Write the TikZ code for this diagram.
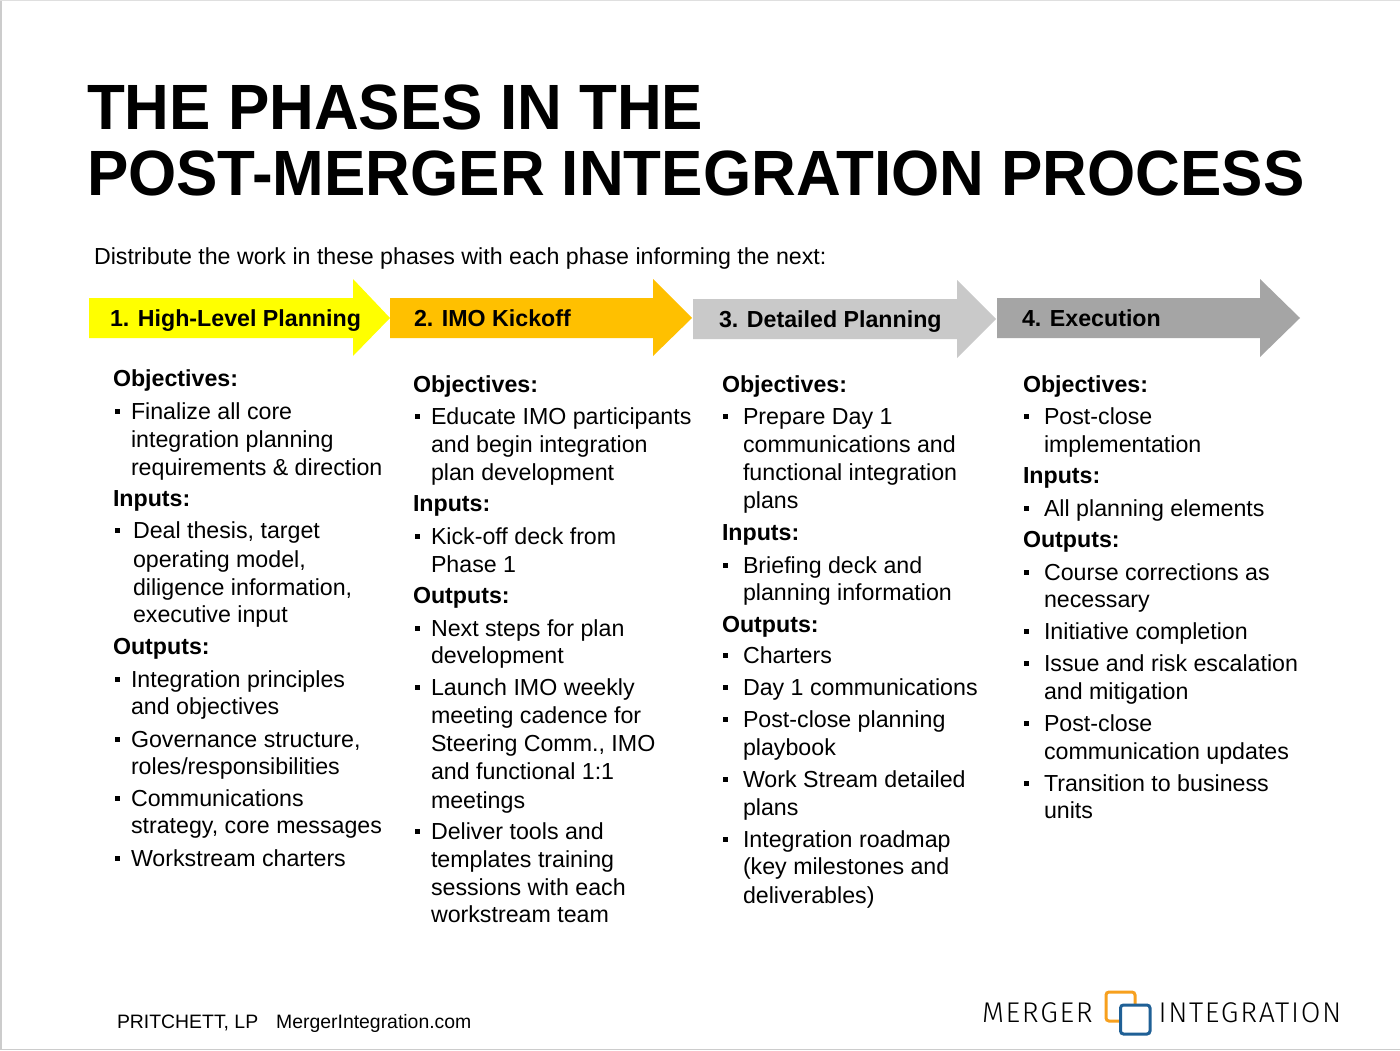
\documentclass[tikz,border=0pt]{standalone}
\usepackage{fontspec}
\usepackage{graphicx}
\setmainfont{Liberation Sans}
\newfontfamily\logofont[LetterSpace=6]{Fira Sans Light}
\newcount\tc
\newcommand{\bodyf}{\fontsize{23.2}{28}\selectfont}
\newcommand{\tl}[3]{\global\advance\tc by 1 \node[txt] (t\the\tc) at (#1,#2) {\bodyf #3};}
\newcommand{\hd}[3]{\global\advance\tc by 1 \node[txt] (t\the\tc) at (#1,#2-0.6) {\bodyf\bfseries #3};}
\newcommand{\bl}[4]{\fill (#1-3,#3-10) rectangle (#1+2,#3-5); \tl{#2}{#3}{#4}}
\definecolor{phaseyellow}{RGB}{255,255,0}
\tikzset{txt/.style={anchor=base west,inner sep=0pt,outer sep=0pt,text=black}}
\begin{document}
\begin{tikzpicture}[x=1pt,y=-1pt]
\useasboundingbox (0,0) rectangle (1400,1051);
\fill[white] (0,0) rectangle (1400,1051);
\draw[gray!40,line width=1.5pt] (1,0) -- (1,1049.5) -- (1400,1049.5);
\draw[gray!25,line width=1pt] (0,0.5) -- (1400,0.5);
% title
\node[txt] (title1) at (87,130) {\scalebox{0.968}[1]{\fontsize{64}{64}\selectfont\bfseries THE PHASES IN THE}};
\node[txt] (title2) at (87,196) {\scalebox{0.968}[1]{\fontsize{64}{64}\selectfont\bfseries POST-MERGER INTEGRATION PROCESS}};
\node[txt] (intro) at (94,265) {\bodyf Distribute the work in these phases with each phase informing the next:};
% arrows
\fill[phaseyellow] (89,298)--(353,298)--(353,279)--(390,318)--(353,356)--(353,338)--(89,338)--cycle;
\fill[fill={rgb,255:red,255;green,192;blue,0}] (390,298)--(653,298)--(653,279)--(692,318)--(653,356)--(653,338)--(390,338)--cycle;
\fill[fill={rgb,255:red,201;green,201;blue,201}] (693,299)--(957,299)--(957,280)--(996,319)--(957,358)--(957,339)--(693,339)--cycle;
\fill[fill={rgb,255:red,165;green,165;blue,165}] (997,298)--(1260,298)--(1260,279)--(1300,318)--(1260,357)--(1260,338)--(997,338)--cycle;
\hd{110}{327}{1. High-Level Planning}
\hd{414}{327}{2. IMO Kickoff}
\hd{719}{328}{3. Detailed Planning}
\hd{1022}{327}{4. Execution}
% column 1
\hd{113}{387}{Objectives:}
\bl{118}{131}{419}{Finalize all core}
\tl{131}{447}{integration planning}
\tl{131}{475}{requirements \& direction}
\hd{113}{507}{Inputs:}
\bl{118}{133}{538}{Deal thesis, target}
\tl{133}{567}{operating model,}
\tl{133}{595}{diligence information,}
\tl{133}{622}{executive input}
\hd{113}{655}{Outputs:}
\bl{118}{131}{687}{Integration principles}
\tl{131}{714}{and objectives}
\bl{118}{131}{747}{Governance structure,}
\tl{131}{774}{roles/responsibilities}
\bl{118}{131}{806}{Communications}
\tl{131}{833}{strategy, core messages}
\bl{118}{131}{866}{Workstream charters}
% column 2
\hd{413}{393}{Objectives:}
\bl{418}{431}{424}{Educate IMO participants}
\tl{431}{452}{and begin integration}
\tl{431}{480}{plan development}
\hd{413}{512}{Inputs:}
\bl{418}{431}{544}{Kick-off deck from}
\tl{431}{572}{Phase 1}
\hd{413}{604}{Outputs:}
\bl{418}{431}{636}{Next steps for plan}
\tl{431}{663}{development}
\bl{418}{431}{695}{Launch IMO weekly}
\tl{431}{723}{meeting cadence for}
\tl{431}{751}{Steering Comm., IMO}
\tl{431}{779}{and functional 1:1}
\tl{431}{808}{meetings}
\bl{418}{431}{839}{Deliver tools and}
\tl{431}{867}{templates training}
\tl{431}{895}{sessions with each}
\tl{431}{922}{workstream team}
% column 3
\hd{722}{393}{Objectives:}
\bl{726}{743}{424}{Prepare Day 1}
\tl{743}{452}{communications and}
\tl{743}{480}{functional integration}
\tl{743}{508}{plans}
\hd{722}{541}{Inputs:}
\bl{726}{743}{573}{Briefing deck and}
\tl{743}{600}{planning information}
\hd{722}{633}{Outputs:}
\bl{726}{743}{663}{Charters}
\bl{726}{743}{695}{Day 1 communications}
\bl{726}{743}{727}{Post-close planning}
\tl{743}{755}{playbook}
\bl{726}{743}{787}{Work Stream detailed}
\tl{743}{815}{plans}
\bl{726}{743}{847}{Integration roadmap}
\tl{743}{874}{(key milestones and}
\tl{743}{903}{deliverables)}
% column 4
\hd{1023}{393}{Objectives:}
\bl{1027}{1044}{424}{Post-close}
\tl{1044}{452}{implementation}
\hd{1023}{484}{Inputs:}
\bl{1027}{1044}{516}{All planning elements}
\hd{1023}{548}{Outputs:}
\bl{1027}{1044}{580}{Course corrections as}
\tl{1044}{607}{necessary}
\bl{1027}{1044}{639}{Initiative completion}
\bl{1027}{1044}{671}{Issue and risk escalation}
\tl{1044}{699}{and mitigation}
\bl{1027}{1044}{731}{Post-close}
\tl{1044}{759}{communication updates}
\bl{1027}{1044}{791}{Transition to business}
\tl{1044}{818}{units}
% footer
\node[txt] (footer) at (117,1028) {\fontsize{19.4}{22}\selectfont PRITCHETT, LP\hspace{18pt}MergerIntegration.com};
% logo
\node[txt] (logoa) at (982,1022) {\logofont\fontsize{28.5}{30}\selectfont MERGER};
\node[txt] (logob) at (1158.5,1022) {\logofont\fontsize{28.5}{30}\selectfont INTEGRATION};
\draw[draw={rgb,255:red,247;green,160;blue,30},line width=3pt,rounded corners=3pt] (1106,992) rectangle (1135,1021);
\draw[draw={rgb,255:red,31;green,96;blue,150},fill=white,line width=3pt,rounded corners=3pt] (1120.5,1005) rectangle (1150,1034);
\end{tikzpicture}
\end{document}
